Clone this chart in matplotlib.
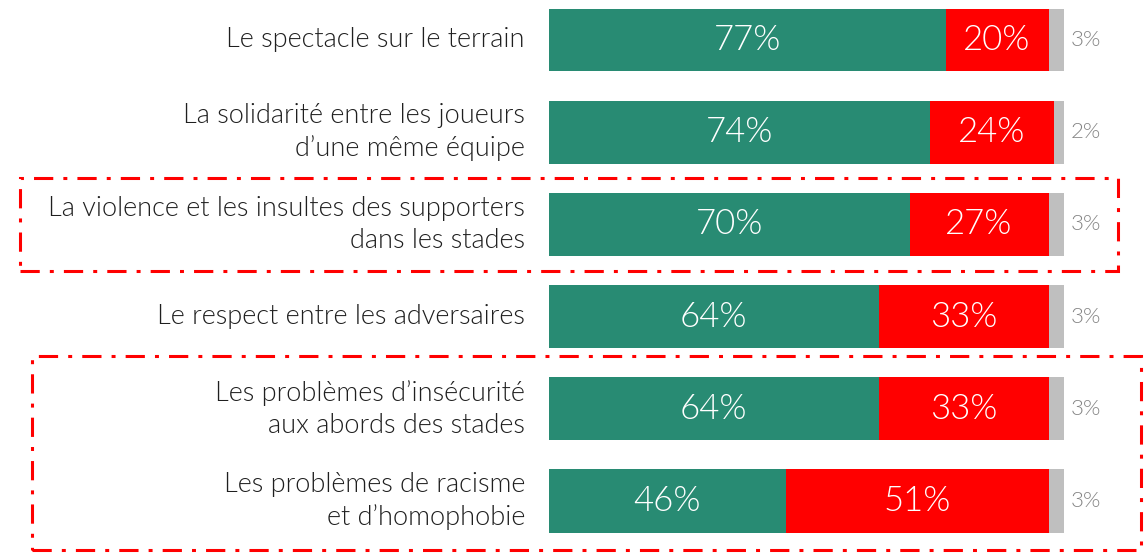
import matplotlib
matplotlib.use("Agg")
import matplotlib.pyplot as plt
from matplotlib.patches import Rectangle

categories = [
    "Le spectacle sur le terrain",
    "La solidarité entre les joueurs\nd\u2019une même équipe",
    "La violence et les insultes des supporters\ndans les stades",
    "Le respect entre les adversaires",
    "Les problèmes d\u2019insécurité\naux abords des stades",
    "Les problèmes de racisme\net d\u2019homophobie",
]
positive = [77, 74, 70, 64, 64, 46]
negative = [20, 24, 27, 33, 33, 51]
no_answer = [3, 2, 3, 3, 3, 3]

GREEN = "#288b73"
RED = "#ff0000"
GRAY = "#bfbfbf"

plt.rcParams['font.family'] = ['Lato', 'DejaVu Sans']

W, H = 1148, 553
fig = plt.figure(figsize=(W / 100, H / 100), dpi=100)
ax = fig.add_axes([549 / W, 0, 515 / W, 1])
ax.set_xlim(0, 100)
step = 92.2
ax.set_ylim((553 - 40) / step, -40 / step)
ax.axis("off")

ys = list(range(len(categories)))
bh = 63 / step
ax.barh(ys, positive, height=bh, color=GREEN)
ax.barh(ys, negative, left=positive, height=bh, color=RED)
lefts = [p + n for p, n in zip(positive, negative)]
ax.barh(ys, no_answer, left=lefts, height=bh, color=GRAY)

for y, p, n, na, cat in zip(ys, positive, negative, no_answer, categories):
    ax.text(p / 2, y, f"{p}%", color="white", fontsize=25, ha="center", va="center", fontweight=300)
    ax.text(p + n / 2, y, f"{n}%", color="white", fontsize=25, ha="center", va="center", fontweight=300)
    ax.text(p + n + na + 1.3, y, f"{na}%", color="#858585", fontsize=16, ha="left", va="center",
            fontweight=300)
    ax.annotate(cat, xy=(0, y), xycoords="data", xytext=(-24, 0), textcoords="offset pixels",
                ha="right", va="center", fontsize=19.5, color="#1f1f1f", linespacing=1.35,
                fontweight=300, annotation_clip=False)

# dash-dot highlight boxes (in pixel coordinates)
def box(x0, y0, x1, y1):
    r = Rectangle((x0 / W, 1 - y1 / H), (x1 - x0) / W, (y1 - y0) / H,
                  transform=fig.transFigure, fill=False, edgecolor=RED,
                  linewidth=2.2, linestyle=(0, (6.3, 3.3, 1.3, 3.3)), clip_on=False)
    fig.add_artist(r)

box(20, 178, 1118, 271)
box(32, 356, 1141, 550)

fig.savefig("out.png", dpi=100)
